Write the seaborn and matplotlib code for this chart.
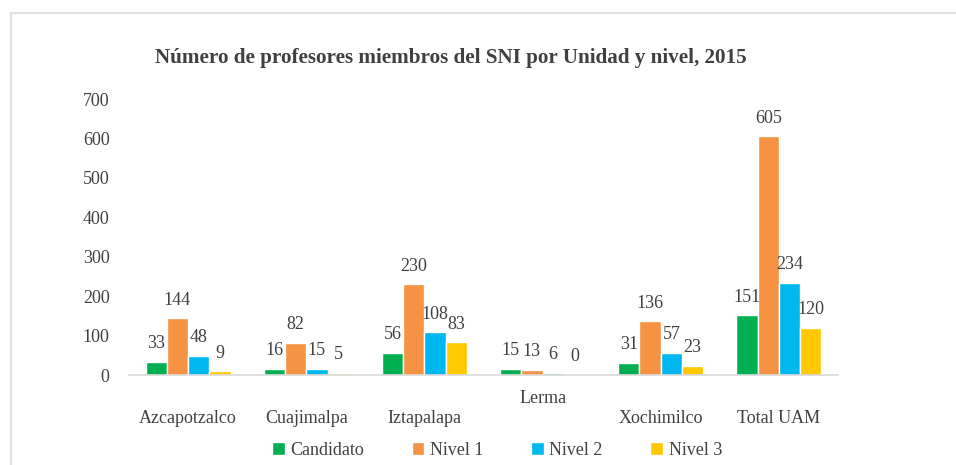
import pandas as pd
import matplotlib.pyplot as plt
import seaborn as sns
from matplotlib.patches import Rectangle, Patch

# Datos del gráfico
unidades = ['Azcapotzalco', 'Cuajimalpa', 'Iztapalapa', 'Lerma', 'Xochimilco', 'Total UAM']
niveles = ['Candidato', 'Nivel 1', 'Nivel 2', 'Nivel 3']
candidato = [33, 16, 56, 15, 31, 151]
nivel_1 = [144, 82, 230, 13, 136, 605]
nivel_2 = [48, 15, 108, 6, 57, 234]
nivel_3 = [9, 5, 83, 0, 23, 120]
colores = ['#00B050', '#F59342', '#00B8F0', '#FFC800']

valores = [candidato, nivel_1, nivel_2, nivel_3]
filas = []
for nivel, serie in zip(niveles, valores):
    for unidad, v in zip(unidades, serie):
        filas.append({'Unidad': unidad, 'Nivel': nivel, 'Profesores': v})
df = pd.DataFrame(filas)

sns.set_style('white')
plt.rcParams['font.family'] = ['Liberation Serif', 'DejaVu Serif']
gris = '#404040'

fig = plt.figure(figsize=(9.56, 4.65), dpi=100)
ax = fig.add_axes([129 / 956, 1 - 375 / 465, 709 / 956, 276 / 465])

sns.barplot(data=df, x='Unidad', y='Profesores', hue='Nivel', order=unidades,
            hue_order=niveles, palette=colores, width=0.72, gap=0,
            saturation=1, legend=False, ax=ax)

for cont in ax.containers:
    ax.bar_label(cont, padding=7, fontsize=13, color=gris)

ax.set_ylim(0, 700)
ax.set_yticks(range(0, 701, 100))
ax.set_xlim(-0.5, len(unidades) - 0.5)
ax.set_xlabel('')
ax.set_ylabel('')

# Lerma queda más arriba que las demás etiquetas
etiquetas = [u if u == 'Lerma' else '\n' + u for u in unidades]
ax.set_xticks(range(len(unidades)))
ax.set_xticklabels(etiquetas)
ax.tick_params(axis='x', length=0, pad=11, labelsize=13, labelcolor=gris)
ax.tick_params(axis='y', length=0, pad=14, labelsize=13, labelcolor=gris)

sns.despine(ax=ax, left=True, top=True, right=True)
ax.spines['bottom'].set_color('#d9d9d9')
ax.spines['bottom'].set_linewidth(1.2)

fig.text(451 / 956, 1 - 58 / 465, 'Número de profesores miembros del SNI por Unidad y nivel, 2015',
         ha='center', va='center', fontsize=15.2, fontweight='bold', color=gris)

handles = [Patch(facecolor=c, label=n) for c, n in zip(colores, niveles)]
fig.legend(handles=handles, loc='center', bbox_to_anchor=(497 / 956, 1 - 450 / 465),
           ncol=4, frameon=False, fontsize=13, handlelength=0.7, handleheight=0.7,
           handletextpad=0.3, columnspacing=2.65, labelcolor=gris)

# Marco del área del gráfico
fig.patches.append(Rectangle((11 / 956, -0.1), 1.2, 1.1 - 13 / 465,
                             transform=fig.transFigure, fill=False,
                             edgecolor='#e0e0e0', linewidth=1.5))

fig.savefig('out.png', dpi=100)
